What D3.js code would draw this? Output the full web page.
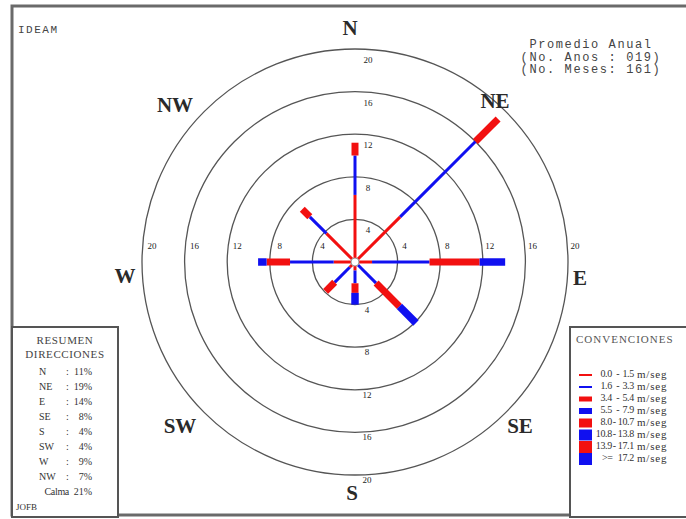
<!DOCTYPE html>
<html>
<head>
<meta charset="utf-8">
<script src="https://cdn.jsdelivr.net/npm/d3@7"></script>
<style>
  body { margin: 0; background: #fff; }
</style>
</head>
<body>
<div id="chart"></div>
<script>
// Rosa de vientos - promedio anual
const directions = ['N', 'NE', 'E', 'SE', 'S', 'SW', 'W', 'NW'];
const dirAngles = [0, 45, 90, 135, 180, 225, 270, 315];

// frecuencia (%) por clase de velocidad, un valor por dirección (N..NW)
const clase1 = [6.3, 6.0, 1.6, 0.4, 0.8, 0.7, 2.0, 3.8];
const clase2 = [3.7, 10.0, 5.4, 2.4, 1.2, 2.0, 4.1, 2.2];
const clase3 = [1.2, 3.0, 4.7, 3.1, 0.9, 1.2, 2.2, 1.0];
const clase4 = [0, 0, 2.4, 2.2, 1.1, 0, 0.8, 0];
const clase5 = [0, 0, 0, 0, 0, 0, 0, 0];
const clase6 = [0, 0, 0, 0, 0, 0, 0, 0];
const clase7 = [0, 0, 0, 0, 0, 0, 0, 0];
const clase8 = [0, 0, 0, 0, 0, 0, 0, 0];
const clases = [clase1, clase2, clase3, clase4, clase5, clase6, clase7, clase8];

const speedLow = ['0.0', '1.6', '3.4', '5.5', '8.0', '10.8', '13.9', '>='];
const speedHigh = ['1.5', '3.3', '5.4', '7.9', '10.7', '13.8', '17.1', '17.2'];

const ringTicks = [4, 8, 12, 16, 20];

const resumenDir = ['N', 'NE', 'E', 'SE', 'S', 'SW', 'W', 'NW'];
const resumenPct = ['11%', '19%', '14%', '8%', '4%', '4%', '9%', '7%'];
const calmaPct = '21%';

const infoLines = ['Promedio Anual', '(No. Anos : 019)', '(No. Meses: 161)'];

const W = 686, H = 519;
const cx = 355, cy = 262;
const serif = '"Liberation Serif", "DejaVu Serif", serif';
const mono = '"Liberation Mono", "DejaVu Sans Mono", monospace';

const svg = d3.select('#chart').append('svg')
  .attr('width', W)
  .attr('height', H)
  .style('background', '#fff');

// radial scale
const r = d3.scaleLinear().domain([0, 20]).range([0, 213]);
// stroke width per speed class, alternating red / blue
const barWidth = d3.scaleOrdinal().domain(d3.range(8)).range([3, 3, 7, 7.5, 9, 10, 11, 12]);
const barColor = d3.scaleOrdinal().domain(d3.range(8)).range(['#f21010', '#1010f0', '#f21010', '#1010f0', '#f21010', '#1010f0', '#f21010', '#1010f0']);

// outer frame
svg.append('rect')
  .attr('x', 12).attr('y', 6)
  .attr('width', W + 10).attr('height', 509)
  .attr('fill', 'none')
  .attr('stroke', '#6a6a6a')
  .attr('stroke-width', 3);

const g = svg.append('g').attr('transform', `translate(${cx},${cy})`);

// rings
g.selectAll('circle.ring')
  .data(ringTicks)
  .join('circle')
  .attr('class', 'ring')
  .attr('r', d => r(d))
  .attr('fill', 'none')
  .attr('stroke', '#555')
  .attr('stroke-width', 1.3);

// ring labels: left, right, top, bottom
const ringLabel = (sel) => sel
  .attr('text-anchor', 'middle')
  .attr('dominant-baseline', 'middle')
  .style('font-family', serif)
  .style('font-size', '9px')
  .attr('fill', '#222')
  .text(d => d);

g.selectAll('text.rl').data(ringTicks).join('text').attr('class', 'rl')
  .attr('x', d => -r(d) + 10).attr('y', -15).call(ringLabel);
g.selectAll('text.rr').data(ringTicks).join('text').attr('class', 'rr')
  .attr('x', d => r(d) + 7).attr('y', -15).call(ringLabel);
g.selectAll('text.rt').data(ringTicks).join('text').attr('class', 'rt')
  .attr('x', 13).attr('y', d => -r(d) + 12).call(ringLabel);
g.selectAll('text.rb').data(ringTicks).join('text').attr('class', 'rb')
  .attr('x', 12).attr('y', d => r(d) + 6).call(ringLabel);

// bars: stacked segments along each direction
const segments = [];
directions.forEach((dir, i) => {
  let acc = 0;
  clases.forEach((c, k) => {
    const v = c[i];
    if (v > 0) {
      segments.push({ dir, angle: dirAngles[i], k, start: acc, end: acc + v });
      acc += v;
    }
  });
});

const rad = a => (a * Math.PI) / 180;
g.selectAll('line.seg')
  .data(segments)
  .join('line')
  .attr('class', 'seg')
  .attr('x1', d => r(d.start) * Math.sin(rad(d.angle)))
  .attr('y1', d => -r(d.start) * Math.cos(rad(d.angle)))
  .attr('x2', d => r(d.end) * Math.sin(rad(d.angle)))
  .attr('y2', d => -r(d.end) * Math.cos(rad(d.angle)))
  .attr('stroke', d => barColor(d.k))
  .attr('stroke-width', d => barWidth(d.k))
  .attr('stroke-linecap', 'butt');

// calm circle
g.append('circle')
  .attr('r', 4)
  .attr('fill', '#fff')
  .attr('stroke', '#999')
  .attr('stroke-width', 1);

// compass labels
const compassOffset = { N: [-5, -232], NE: [140, -159], E: [225, 18], SE: [165, 166],
  S: [-3, 233], SW: [-175, 166], W: [-230, 16], NW: [-180, -155] };
g.selectAll('text.compass')
  .data(directions)
  .join('text')
  .attr('class', 'compass')
  .attr('x', d => compassOffset[d][0])
  .attr('y', d => compassOffset[d][1])
  .attr('text-anchor', 'middle')
  .attr('dominant-baseline', 'middle')
  .style('font-family', serif)
  .style('font-size', '21px')
  .style('font-weight', 'bold')
  .attr('fill', '#2a2a2a')
  .text(d => d);

// header texts
svg.append('text')
  .attr('x', 18).attr('y', 33)
  .style('font-family', mono)
  .style('font-size', '11px')
  .style('letter-spacing', '1.5px')
  .attr('fill', '#444')
  .text('IDEAM');

svg.selectAll('text.info')
  .data(infoLines)
  .join('text')
  .attr('class', 'info')
  .attr('x', 591)
  .attr('y', (d, i) => 48 + i * 12.5)
  .attr('text-anchor', 'middle')
  .style('font-family', mono)
  .style('font-size', '12px')
  .style('letter-spacing', '1.6px')
  .attr('fill', '#444')
  .attr('xml:space', 'preserve')
  .text(d => d);

// summary box
const sumBox = svg.append('g');
sumBox.append('rect')
  .attr('x', 12).attr('y', 327)
  .attr('width', 106).attr('height', 190)
  .attr('fill', '#fff')
  .attr('stroke', '#555')
  .attr('stroke-width', 2);
sumBox.selectAll('text.head')
  .data(['RESUMEN', 'DIRECCIONES'])
  .join('text')
  .attr('class', 'head')
  .attr('x', 65)
  .attr('y', (d, i) => 341 + i * 14)
  .attr('text-anchor', 'middle')
  .attr('dominant-baseline', 'middle')
  .style('font-family', serif)
  .style('font-size', '11px')
  .style('letter-spacing', '0.6px')
  .attr('fill', '#444')
  .text(d => d);

const rowY = i => 373 + i * 15;
const rowText = (sel) => sel
  .attr('dominant-baseline', 'middle')
  .style('font-family', serif)
  .style('font-size', '10px')
  .attr('fill', '#333');
sumBox.selectAll('text.sd')
  .data(resumenDir)
  .join('text')
  .attr('class', 'sd')
  .attr('x', 39).attr('y', (d, i) => rowY(i))
  .call(rowText)
  .text(d => d);
sumBox.selectAll('text.sc')
  .data(resumenDir)
  .join('text')
  .attr('class', 'sc')
  .attr('x', 66).attr('y', (d, i) => rowY(i))
  .call(rowText)
  .text(':');
sumBox.selectAll('text.sp')
  .data(resumenPct)
  .join('text')
  .attr('class', 'sp')
  .attr('x', 92).attr('y', (d, i) => rowY(i))
  .attr('text-anchor', 'end')
  .call(rowText)
  .text(d => d);
sumBox.append('text')
  .attr('x', 69).attr('y', rowY(8))
  .attr('text-anchor', 'end')
  .call(rowText)
  .style('letter-spacing', '-0.3px')
  .text('Calma');
sumBox.append('text')
  .attr('x', 92).attr('y', rowY(8))
  .attr('text-anchor', 'end')
  .call(rowText)
  .text(calmaPct);
sumBox.append('text')
  .attr('x', 16).attr('y', 508)
  .call(rowText)
  .style('font-size', '9px')
  .text('JOFB');

// legend box
const leg = svg.append('g');
leg.append('rect')
  .attr('x', 570).attr('y', 327)
  .attr('width', 130).attr('height', 190)
  .attr('fill', '#fff')
  .attr('stroke', '#555')
  .attr('stroke-width', 2);
leg.append('text')
  .attr('x', 576).attr('y', 340)
  .attr('dominant-baseline', 'middle')
  .style('font-family', serif)
  .style('font-size', '11px')
  .style('letter-spacing', '1px')
  .attr('fill', '#555')
  .text('CONVENCIONES');

const legY = i => 375 + i * 12;
leg.selectAll('line.sym')
  .data(d3.range(8))
  .join('line')
  .attr('class', 'sym')
  .attr('x1', 579).attr('x2', 592)
  .attr('y1', i => legY(i)).attr('y2', i => legY(i))
  .attr('stroke', i => barColor(i))
  .attr('stroke-width', i => [2, 2, 5, 6, 9, 11, 12, 12][i]);
const legText = (sel) => sel
  .attr('dominant-baseline', 'middle')
  .style('font-family', serif)
  .style('font-size', '10px')
  .attr('fill', '#333');
leg.selectAll('text.lo')
  .data(speedLow)
  .join('text')
  .attr('class', 'lo')
  .attr('x', (d, i) => i === 7 ? 602 : 612)
  .attr('y', (d, i) => legY(i))
  .attr('text-anchor', (d, i) => i === 7 ? 'start' : 'end')
  .call(legText)
  .style('letter-spacing', '-0.3px')
  .text(d => d);
leg.selectAll('text.dash')
  .data(speedLow.slice(0, 7))
  .join('text')
  .attr('class', 'dash')
  .attr('x', (d, i) => i < 4 ? 618 : 614.5).attr('y', (d, i) => legY(i))
  .attr('text-anchor', 'middle')
  .call(legText)
  .text('-');
leg.selectAll('text.hi')
  .data(speedHigh)
  .join('text')
  .attr('class', 'hi')
  .attr('x', 634).attr('y', (d, i) => legY(i))
  .attr('text-anchor', 'end')
  .call(legText)
  .style('letter-spacing', '-0.3px')
  .text(d => d);
leg.selectAll('text.unit')
  .data(speedHigh)
  .join('text')
  .attr('class', 'unit')
  .attr('x', 637).attr('y', (d, i) => legY(i))
  .call(legText)
  .style('font-size', '11px')
  .style('letter-spacing', '0.8px')
  .text('m/seg');
</script>
</body>
</html>
